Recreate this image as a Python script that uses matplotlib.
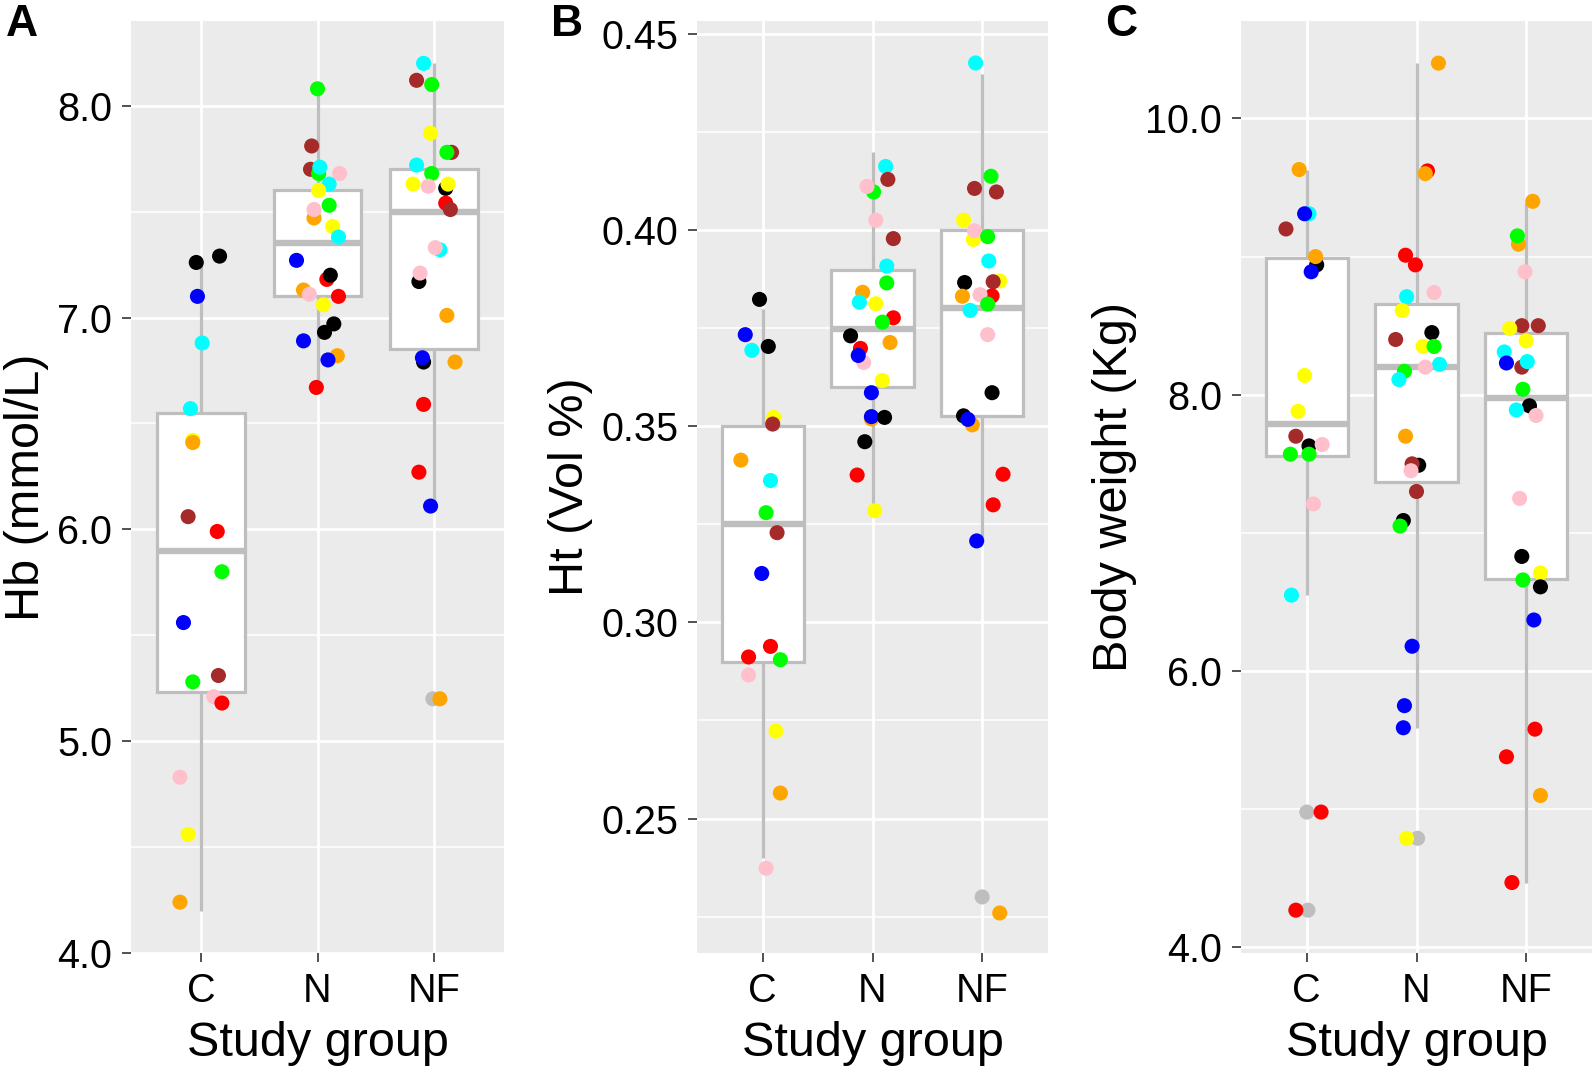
import matplotlib
matplotlib.use("Agg")
import matplotlib.pyplot as plt

plt.rcParams['font.family'] = ['Liberation Sans', 'DejaVu Sans']

# study groups on the x axis
groups = ["C", "N", "NF"]

# R colour names used for each animal
COLORS = {"black": "#000000", "blue": "#0000FF", "cyan": "#00FFFF", "orange": "#FFA500",
          "yellow": "#FFFF00", "brown": "#A52A2A", "red": "#FF0000", "green": "#00FF00",
          "pink": "#FFC0CB", "gray": "#BEBEBE"}

# ---- panel A: Hb (mmol/L) ----
hb_group = ["C"] * 18 + ["N"] * 26 + ["NF"] * 27
hb_values = [7.26, 7.29, 7.10, 6.88, 6.57, 6.42, 6.41, 6.06, 5.99, 5.80, 5.56, 5.28, 5.31, 5.21, 5.18, 4.83, 4.56, 4.24,
             8.08, 7.81, 7.70, 7.68, 7.71, 7.68, 7.63, 7.60, 7.53, 7.47, 7.51, 7.43, 7.38, 7.27, 7.18, 7.20, 7.13, 7.11,
             7.10, 7.06, 6.97, 6.93, 6.89, 6.82, 6.80, 6.67,
             8.20, 8.12, 8.10, 7.87, 7.78, 7.78, 7.72, 7.68, 7.63, 7.62, 7.61, 7.63, 7.54, 7.51, 7.32, 7.33, 7.17, 7.21,
             7.01, 6.79, 6.81, 6.79, 6.59, 6.27, 6.11, 5.20, 5.20]
hb_jitter = [-0.04, 0.16, -0.03, 0.01, -0.09, -0.07, -0.07, -0.11, 0.14, 0.18, -0.15, -0.07, 0.15, 0.11, 0.18, -0.18, -0.11, -0.18,
             0.00, -0.05, -0.06, 0.01, 0.02, 0.19, 0.10, 0.01, 0.10, -0.03, -0.03, 0.13, 0.18, -0.18, 0.08, 0.11, -0.12, -0.07,
             0.18, 0.05, 0.14, 0.06, -0.12, 0.17, 0.09, -0.01,
             -0.09, -0.15, -0.02, -0.03, 0.15, 0.11, -0.15, -0.02, -0.18, -0.05, 0.10, 0.12, 0.10, 0.14, 0.05, 0.01, -0.13, -0.12,
             0.11, -0.09, -0.10, 0.18, -0.09, -0.13, -0.03, -0.01, 0.05]
hb_colors = ["black", "black", "blue", "cyan", "cyan", "yellow", "orange", "brown", "red", "green", "blue", "green", "brown",
             "pink", "red", "pink", "yellow", "orange",
             "green", "brown", "brown", "green", "cyan", "pink", "cyan", "yellow", "green", "orange", "pink", "yellow", "cyan",
             "blue", "red", "black", "orange", "pink", "red", "yellow", "black", "black", "blue", "orange", "blue", "red",
             "cyan", "brown", "green", "yellow", "brown", "green", "cyan", "green", "yellow", "pink", "black", "yellow", "red",
             "brown", "cyan", "pink", "black", "pink", "orange", "black", "blue", "orange", "red", "red", "blue", "gray", "orange"]
# box stats: q1, median, q3, lower whisker, upper whisker
hb_q1 = [5.23, 7.10, 6.85]
hb_med = [5.90, 7.35, 7.50]
hb_q3 = [6.55, 7.60, 7.70]
hb_lo = [4.20, 6.70, 6.11]
hb_hi = [7.26, 8.08, 8.20]

# ---- panel B: Ht (Vol %) ----
ht_group = ["C"] * 18 + ["N"] * 26 + ["NF"] * 27
ht_values = [0.3824, 0.3734, 0.3694, 0.3704, 0.3523, 0.3506, 0.3414, 0.3362, 0.3280, 0.3229, 0.3125, 0.2939, 0.2912,
             0.2905, 0.2866, 0.2723, 0.2565, 0.2373,
             0.4163, 0.4130, 0.4098, 0.4112, 0.4026, 0.3979, 0.3909, 0.3866, 0.3842, 0.3817, 0.3813, 0.3777, 0.3766,
             0.3731, 0.3714, 0.3663, 0.3699, 0.3681, 0.3617, 0.3586, 0.3519, 0.3525, 0.3523, 0.3461, 0.3376, 0.3285,
             0.4427, 0.4138, 0.4107, 0.4098, 0.4026, 0.3977, 0.3999, 0.3984, 0.3922, 0.3867, 0.3871, 0.3869, 0.3832,
             0.3833, 0.3836, 0.3812, 0.3796, 0.3734, 0.3586, 0.3527, 0.3504, 0.3518, 0.3378, 0.3300, 0.3208, 0.2300, 0.2259]
ht_jitter = [-0.03, -0.16, -0.10, 0.05, 0.10, 0.09, -0.20, 0.07, 0.03, 0.13, -0.01, 0.07, -0.13, 0.16, -0.13, 0.12, 0.16, 0.03,
             0.12, 0.14, 0.01, -0.05, 0.03, 0.19, 0.13, 0.13, -0.09, -0.12, 0.03, 0.19, 0.09, -0.20, 0.16, -0.08, -0.11,
             -0.13, 0.09, -0.01, -0.01, -0.01, 0.11, -0.07, -0.14, 0.02,
             -0.06, 0.08, -0.07, 0.13, -0.17, -0.08, -0.07, 0.05, 0.06, -0.16, 0.16, 0.10, -0.18, 0.09, -0.02, 0.05, -0.11,
             0.05, 0.09, -0.17, -0.09, -0.13, 0.19, 0.10, -0.05, 0.00, 0.16]
ht_colors = ["black", "blue", "cyan", "black", "yellow", "brown", "orange", "cyan", "green", "brown", "blue", "red", "red",
             "green", "pink", "yellow", "orange", "pink",
             "cyan", "brown", "green", "pink", "pink", "brown", "cyan", "green", "orange", "cyan", "yellow", "red", "green",
             "black", "orange", "pink", "red", "blue", "yellow", "blue", "orange", "blue", "black", "black", "red", "yellow",
             "cyan", "green", "brown", "brown", "yellow", "yellow", "pink", "green", "cyan", "black", "yellow", "brown",
             "orange", "red", "pink", "green", "cyan", "pink", "black", "black", "orange", "blue", "red", "red", "blue",
             "gray", "orange"]
ht_q1 = [0.2898, 0.3600, 0.3526]
ht_med = [0.3250, 0.3749, 0.3802]
ht_q3 = [0.3500, 0.3900, 0.4000]
ht_lo = [0.2400, 0.3290, 0.3208]
ht_hi = [0.3800, 0.4200, 0.4400]

# ---- panel C: body weight (Kg) ----
bw_group = ["C"] * 20 + ["N"] * 28 + ["NF"] * 26
bw_values = [9.63, 9.31, 9.31, 9.20, 8.94, 9.00, 8.89, 8.14, 7.88, 7.70, 7.63, 7.64, 7.57, 7.57, 7.21, 6.55, 4.98, 4.98,
             4.27, 4.27,
             10.40, 9.62, 9.60, 9.01, 8.94, 8.71, 8.74, 8.61, 8.45, 8.40, 8.35, 8.35, 8.22, 8.20, 8.17, 8.11, 7.70, 7.49,
             7.50, 7.45, 7.30, 7.09, 7.05, 6.18, 5.75, 5.59, 4.79, 4.79,
             9.40, 9.09, 9.15, 8.89, 8.50, 8.50, 8.48, 8.39, 8.31, 8.23, 8.20, 8.24, 8.04, 7.92, 7.89, 7.85, 7.25, 6.83,
             6.71, 6.66, 6.61, 6.37, 5.58, 5.38, 5.10, 4.47]
bw_jitter = [-0.07, 0.02, -0.02, -0.19, 0.09, 0.08, 0.04, -0.02, -0.08, -0.10, 0.02, 0.14, -0.15, 0.02, 0.06, -0.14, 0.00,
             0.13, 0.01, -0.10,
             0.20, 0.10, 0.08, -0.10, -0.01, -0.09, 0.16, -0.13, 0.14, -0.19, 0.06, 0.16, 0.21, 0.08, -0.11, -0.16, -0.10,
             0.02, -0.04, -0.05, 0.00, -0.12, -0.15, -0.04, -0.11, -0.12, 0.01, -0.09,
             0.06, -0.07, -0.08, -0.01, -0.04, 0.11, -0.15, 0.00, -0.20, -0.18, -0.04, 0.01, -0.03, 0.03, -0.09, 0.09,
             -0.06, -0.04, 0.13, -0.03, 0.13, 0.07, 0.08, -0.18, 0.13, -0.13]
bw_colors = ["orange", "cyan", "blue", "brown", "black", "orange", "blue", "yellow", "yellow", "brown", "black", "pink",
             "green", "green", "pink", "cyan", "gray", "red", "gray", "red",
             "orange", "red", "orange", "red", "red", "cyan", "pink", "yellow", "black", "brown", "yellow", "green", "cyan",
             "pink", "green", "cyan", "orange", "black", "brown", "pink", "brown", "black", "green", "blue", "blue", "blue",
             "gray", "yellow",
             "orange", "orange", "green", "pink", "brown", "brown", "yellow", "yellow", "cyan", "blue", "brown", "cyan",
             "green", "black", "cyan", "pink", "pink", "black", "yellow", "green", "black", "blue", "red", "red", "orange", "red"]
bw_q1 = [7.56, 7.37, 6.67]
bw_med = [7.79, 8.20, 7.98]
bw_q3 = [8.99, 8.66, 8.45]
bw_lo = [6.55, 5.59, 4.47]
bw_hi = [9.63, 10.40, 9.39]

W, H = 1593, 1070
BOX_GREY = "#BEBEBE"


def draw_panel(rect, group, values, jitter, colors, q1, med, q3, lo, hi,
               ylim, major, minor, fmt, ylabel, letter, letter_x):
    ax = fig.add_axes([rect[0] / W, rect[1] / H, rect[2] / W, rect[3] / H])
    ax.set_facecolor("#EBEBEB")
    for s in ax.spines.values():
        s.set_visible(False)

    # boxplots from the read-off statistics
    stats = [{"q1": q1[i], "med": med[i], "q3": q3[i], "whislo": lo[i], "whishi": hi[i],
              "fliers": [], "label": g} for i, g in enumerate(groups)]
    ax.bxp(stats, positions=[1, 2, 3], widths=0.75, patch_artist=True, showcaps=False,
           boxprops=dict(facecolor="white", edgecolor=BOX_GREY, linewidth=2.3),
           whiskerprops=dict(color=BOX_GREY, linewidth=2.3, solid_capstyle="butt"),
           medianprops=dict(color=BOX_GREY, linewidth=4.6, solid_capstyle="butt"),
           zorder=2)

    # jittered points
    xs = [groups.index(g) + 1 + j for g, j in zip(group, jitter)]
    ax.scatter(xs, values, s=118, c=[COLORS[c] for c in colors], linewidths=0, zorder=3)

    ax.set_xlim(0.4, 3.6)
    ax.set_ylim(*ylim)
    ax.set_xticks([1, 2, 3])
    ax.set_xticklabels(groups)
    ax.set_yticks(major)
    ax.set_yticklabels([fmt.format(v) for v in major])
    ax.set_yticks(minor, minor=True)
    ax.tick_params(axis="y", which="minor", length=0)
    ax.grid(True, which="major", color="white", linewidth=2.0)
    ax.grid(True, which="minor", axis="y", color="white", linewidth=1.1)
    ax.set_axisbelow(True)
    ax.tick_params(which="major", length=6.5, width=1.2, color="#333333",
                   labelsize=28.5, labelcolor="black", pad=7)
    ax.set_xlabel("Study group", fontsize=35, labelpad=8)
    ax.set_ylabel(ylabel, fontsize=35, labelpad=6)
    fig.text(letter_x / W, 1 - 4 / H, letter, fontsize=32, fontweight="bold", va="top", ha="left")
    return ax


fig = plt.figure(figsize=(W / 100, H / 100), dpi=100)

draw_panel([131, 117, 373, 932], hb_group, hb_values, hb_jitter, hb_colors,
           hb_q1, hb_med, hb_q3, hb_lo, hb_hi,
           (4.0, 8.40), [4.0, 5.0, 6.0, 7.0, 8.0], [4.5, 5.5, 6.5, 7.5], "{:.1f}",
           "Hb (mmol/L)", "A", 6)
draw_panel([697, 117, 351, 932], ht_group, ht_values, ht_jitter, ht_colors,
           ht_q1, ht_med, ht_q3, ht_lo, ht_hi,
           (0.2157, 0.4534), [0.25, 0.30, 0.35, 0.40, 0.45], [0.225, 0.275, 0.325, 0.375, 0.425], "{:.2f}",
           "Ht (Vol %)", "B", 551)
draw_panel([1241, 117, 351, 932], bw_group, bw_values, bw_jitter, bw_colors,
           bw_q1, bw_med, bw_q3, bw_lo, bw_hi,
           (3.96, 10.705), [4.0, 6.0, 8.0, 10.0], [5.0, 7.0, 9.0], "{:.1f}",
           "Body weight (Kg)", "C", 1105)

fig.savefig("out.png", dpi=100)
